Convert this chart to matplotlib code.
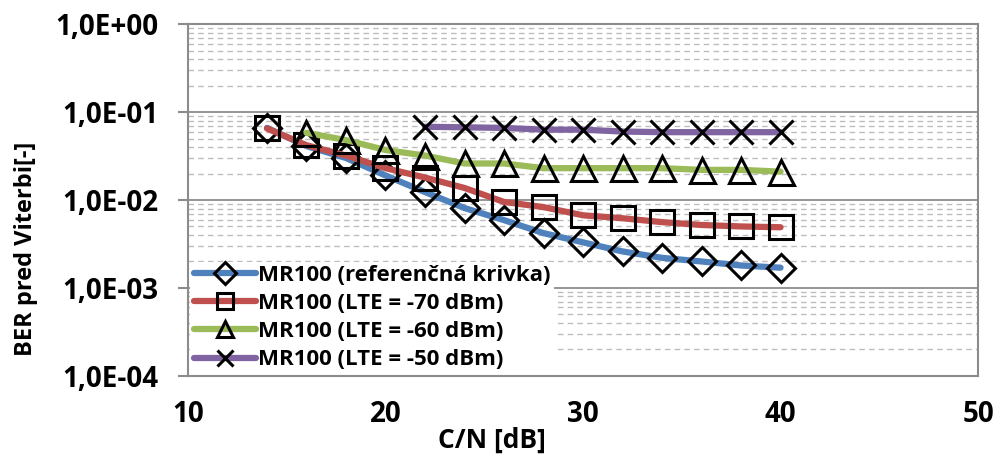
import numpy as np
import matplotlib
matplotlib.use('Agg')
import matplotlib.pyplot as plt
from matplotlib.ticker import LogLocator, FixedLocator

plt.rcParams['font.family'] = ['Open Sans', 'DejaVu Sans']
plt.rcParams['font.weight'] = 'bold'

# ===== data =====
cn_ref = [14, 16, 18, 20, 22, 24, 26, 28, 30, 32, 34, 36, 38, 40]
ber_ref = [0.066, 0.041, 0.030, 0.019, 0.0123, 0.0081, 0.0059, 0.0042, 0.0033,
           0.0026, 0.0022, 0.0020, 0.0018, 0.0017]
cn_70 = [14, 16, 18, 20, 22, 24, 26, 28, 30, 32, 34, 36, 38, 40]
ber_70 = [0.065, 0.042, 0.032, 0.023, 0.018, 0.0137, 0.0095, 0.0083, 0.0067,
          0.0062, 0.0056, 0.0052, 0.0050, 0.0049]
cn_60 = [16, 18, 20, 22, 24, 26, 28, 30, 32, 34, 36, 38, 40]
ber_60 = [0.058, 0.048, 0.037, 0.032, 0.026, 0.026, 0.023, 0.023, 0.023,
          0.023, 0.022, 0.022, 0.021]
cn_50 = [22, 24, 26, 28, 30, 32, 34, 36, 38, 40]
ber_50 = [0.068, 0.067, 0.066, 0.063, 0.063, 0.060, 0.059, 0.059, 0.059, 0.059]

labels = ["MR100 (referenčná krivka)", "MR100 (LTE = -70 dBm)",
          "MR100 (LTE = -60 dBm)", "MR100 (LTE = -50 dBm)"]
colors = ['#4F81BD', '#C0504D', '#9BBB59', '#8064A2']
markers = ['D', 's', '^', 'x']
msizes = [14, 17, 18, 17]

series = [(cn_ref, ber_ref), (cn_70, ber_70), (cn_60, ber_60), (cn_50, ber_50)]

fig = plt.figure(figsize=(10.02, 4.54), dpi=100)
ax = fig.add_axes([0.1876, 0.172, 0.7885, 0.775])

for (x, y), lab, c, mk, ms in zip(series, labels, colors, markers, msizes):
    ax.plot(x, y, color=c, lw=4.5, solid_capstyle='round', solid_joinstyle='round',
            marker=mk, ms=ms, mfc='none', mec='black', mew=2.2, label=lab, zorder=3)

ax.set_yscale('log')
ax.set_xlim(10, 50)
ax.set_ylim(1e-4, 1)
ax.xaxis.set_major_locator(FixedLocator([10, 20, 30, 40, 50]))
ax.yaxis.set_minor_locator(LogLocator(base=10, subs=np.arange(2, 10), numticks=20))
ax.set_yticks([1e-4, 1e-3, 1e-2, 1e-1, 1])
ax.set_yticklabels(['1,0E-04', '1,0E-03', '1,0E-02', '1,0E-01', '1,0E+00'])
ax.yaxis.set_minor_formatter(plt.NullFormatter())

ax.grid(True, which='major', axis='y', color='#8c8c8c', lw=1.3)
ax.grid(True, which='minor', axis='y', color='#bdbdbd', lw=1.0, ls=(0, (4, 3)))
ax.set_axisbelow(True)

for s in ax.spines.values():
    s.set_color('#8c8c8c')
    s.set_linewidth(1.5)

ax.tick_params(axis='y', which='major', length=7.5, width=1.5, color='#8c8c8c',
               labelsize=20, pad=14)
ax.tick_params(axis='y', which='minor', length=0)
ax.tick_params(axis='x', which='major', length=0, labelsize=20, pad=17)
for t in ax.get_xticklabels() + ax.get_yticklabels():
    t.set_fontweight('bold')

ax.set_xlabel('C/N [dB]', fontsize=19, fontweight='bold')
ax.xaxis.set_label_coords(0.385, -0.145)
ax.set_ylabel('BER pred Viterbi[-]', fontsize=17, fontweight='bold')
ax.yaxis.set_label_coords(-0.19, 0.36)

leg = ax.legend(loc='lower left', bbox_to_anchor=(0.0, 0.0), frameon=True,
                prop={'size': 16, 'weight': 'bold'}, handlelength=2.8, handletextpad=0.1,
                labelspacing=0.32, borderaxespad=0.1, borderpad=0.15)
leg.get_frame().set_edgecolor('none')
leg.get_frame().set_facecolor('white')
leg.get_frame().set_alpha(1.0)
leg.set_zorder(5)
for h in leg.get_lines():
    h.set_markersize(11)

plt.savefig('out.png', dpi=100)
